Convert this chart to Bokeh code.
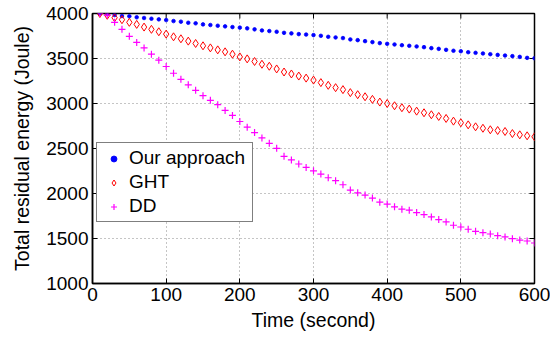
import math
from bokeh.plotting import figure
from bokeh.models import Range1d, Legend, LegendItem, FixedTicker
from bokeh.embed import file_html
from bokeh.resources import INLINE

time_s = [10, 20, 30, 40, 50, 60, 70, 80, 90, 100,
          110, 120, 130, 140, 150, 160, 170, 180, 190, 200,
          210, 220, 230, 240, 250, 260, 270, 280, 290, 300,
          310, 320, 330, 340, 350, 360, 370, 380, 390, 400,
          410, 420, 430, 440, 450, 460, 470, 480, 490, 500,
          510, 520, 530, 540, 550, 560, 570, 580, 590, 600]

our_approach = [4000, 3994, 3983, 3972, 3969, 3958, 3950, 3942, 3935, 3927,
                3916, 3909, 3897, 3891, 3879, 3872, 3864, 3857, 3849, 3843,
                3835, 3824, 3812, 3805, 3797, 3785, 3779, 3771, 3766, 3760,
                3752, 3741, 3734, 3727, 3712, 3704, 3693, 3682, 3671, 3663,
                3656, 3648, 3641, 3634, 3626, 3615, 3607, 3596, 3586, 3581,
                3570, 3563, 3556, 3548, 3540, 3533, 3526, 3518, 3507, 3503]

ght = [4000, 3980, 3953, 3931, 3902, 3879, 3849, 3824, 3797, 3771,
       3741, 3719, 3693, 3667, 3641, 3618, 3596, 3574, 3548, 3518,
       3496, 3467, 3436, 3414, 3384, 3350, 3328, 3305, 3282, 3260,
       3232, 3202, 3176, 3154, 3121, 3098, 3075, 3046, 3016, 3000,
       2975, 2953, 2938, 2915, 2897, 2875, 2856, 2834, 2804, 2786,
       2763, 2741, 2725, 2708, 2700, 2689, 2666, 2652, 2641, 2630]

dd = [4000, 3983, 3902, 3824, 3746, 3679, 3618, 3548, 3481, 3411,
      3336, 3269, 3207, 3146, 3087, 3035, 2987, 2923, 2867, 2800,
      2737, 2677, 2618, 2558, 2502, 2413, 2373, 2328, 2290, 2252,
      2216, 2175, 2142, 2097, 2038, 2008, 1982, 1949, 1904, 1882,
      1852, 1826, 1815, 1788, 1766, 1740, 1710, 1684, 1647, 1628,
      1603, 1580, 1565, 1550, 1531, 1517, 1498, 1483, 1472, 1450]

x_ticks = [0, 100, 200, 300, 400, 500, 600]
y_ticks = [1000, 1500, 2000, 2500, 3000, 3500, 4000]

FONT = "Liberation Sans"
TICK_FS = "19px"
LABEL_FS = "19.5px"

p = figure(width=550, height=337, output_backend="svg", toolbar_location=None,
           x_range=Range1d(0, 600), y_range=Range1d(1000, 4000),
           min_border_left=92, min_border_right=16, min_border_top=13,
           min_border_bottom=54, x_axis_label="Time (second)",
           y_axis_label="Total residual energy (Joule)")

p.background_fill_color = "white"
p.border_fill_color = "white"
p.outline_line_color = "black"
p.outline_line_width = 1.5

for ax in (p.xaxis[0], p.yaxis[0]):
    ax.axis_line_color = "black"
    ax.axis_line_width = 1.5
    ax.major_tick_in = 5
    ax.major_tick_out = 0
    ax.minor_tick_line_color = None
    ax.major_tick_line_color = "black"
    ax.major_label_text_font = FONT
    ax.major_label_text_font_size = TICK_FS
    ax.major_label_text_color = "black"
    ax.axis_label_text_font = FONT
    ax.axis_label_text_font_size = LABEL_FS
    ax.axis_label_text_font_style = "normal"
    ax.axis_label_text_color = "black"
    ax.major_label_standoff = 4

p.xaxis[0].ticker = FixedTicker(ticks=x_ticks)
p.yaxis[0].ticker = FixedTicker(ticks=y_ticks)
p.xaxis[0].axis_label_standoff = 5
p.yaxis[0].axis_label_standoff = 10

for g in (p.xgrid[0], p.ygrid[0]):
    g.grid_line_color = "#8a8a8a"
    g.grid_line_dash = "1 3"
    g.grid_line_width = 1
p.xgrid[0].ticker = FixedTicker(ticks=x_ticks)
p.ygrid[0].ticker = FixedTicker(ticks=y_ticks)

# inward ticks on the right and top edges of the box (outer half is clipped)
x_end = p.x_range.end
y_end = p.y_range.end
p.scatter([x_end] * len(y_ticks), y_ticks, marker="dash", size=10,
          line_color="black", line_width=1)
p.scatter(x_ticks, [y_end] * len(x_ticks), marker="dash", size=10,
          angle=math.pi / 2, line_color="black", line_width=1)

r1 = p.scatter(time_s, our_approach, marker="circle", size=3.6,
               fill_color="#0000ff", line_color="#0000ff", line_width=0.8)
r2 = p.scatter(time_s, ght, marker="diamond", size=8,
               fill_color=None, line_color="#ff0000", line_width=1)
r3 = p.scatter(time_s, dd, marker="cross", size=7,
               line_color="#ff00ff", line_width=1.2)

legend = Legend(items=[LegendItem(label="Our approach", renderers=[r1]),
                       LegendItem(label="GHT", renderers=[r2]),
                       LegendItem(label="DD", renderers=[r3])],
                location=(4, 61))
legend.label_text_font = FONT
legend.label_text_font_size = TICK_FS
legend.label_text_color = "black"
legend.border_line_color = "black"
legend.border_line_width = 1
legend.background_fill_color = "white"
legend.background_fill_alpha = 1
legend.padding = 4
legend.spacing = 2
legend.margin = 0
legend.glyph_width = 25
legend.glyph_height = 15
legend.label_height = 22
legend.label_width = 119
legend.label_standoff = 3
p.add_layout(legend)

open("out.html", "w").write(file_html(p, INLINE))
